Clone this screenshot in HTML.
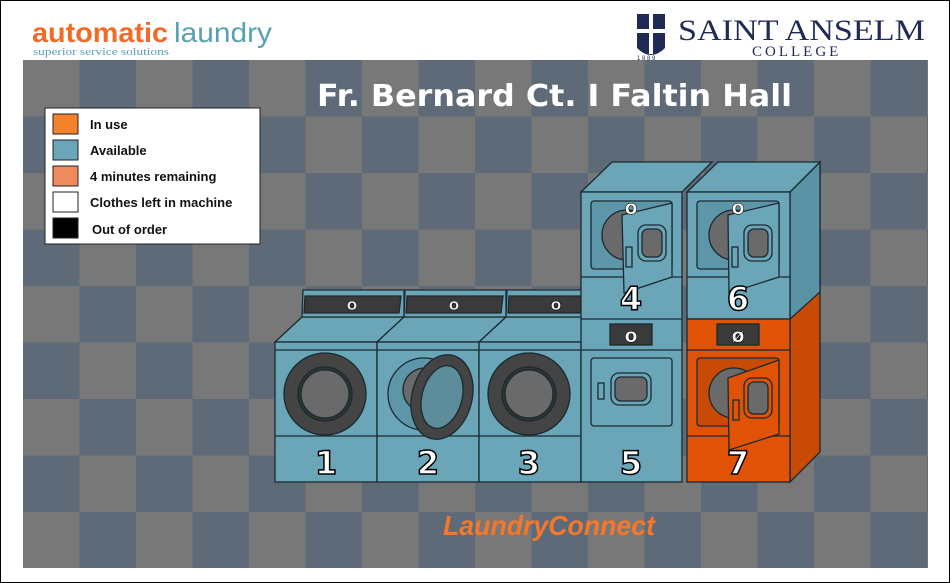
<!DOCTYPE html>
<html><head><meta charset="utf-8"><style>
html,body{margin:0;padding:0;background:#fff}
svg{display:block}
</style></head><body>
<svg width="950" height="583" viewBox="0 0 950 583" xmlns="http://www.w3.org/2000/svg" font-family="Liberation Sans, sans-serif">
<defs>
<pattern id="chk" x="23" y="60" width="113" height="113" patternUnits="userSpaceOnUse">
<rect width="113" height="113" fill="#787878"/>
<rect x="56.5" y="0" width="56.5" height="56.5" fill="#5f6a78"/>
<rect x="0" y="56.5" width="56.5" height="56.5" fill="#5f6a78"/>
</pattern>
</defs>
<rect x="0.5" y="0.5" width="949" height="582" fill="#fff" stroke="#000"/>
<rect x="23" y="60" width="905" height="508" fill="url(#chk)"/>

<!-- logos -->
<text x="32" y="42" font-size="28" font-weight="bold" fill="#f26a2a" textLength="136" lengthAdjust="spacingAndGlyphs">automatic</text>
<text x="174" y="42" font-size="28" fill="#5a9fb8" textLength="98" lengthAdjust="spacingAndGlyphs">laundry</text>
<text x="33" y="55" font-size="11" fill="#5a9fb8" font-family="Liberation Serif, serif" textLength="136" lengthAdjust="spacingAndGlyphs">superior service solutions</text>
<rect x="637" y="14" width="28" height="34" fill="#1f2a55"/>
<path d="M637 48 Q651 62 665 48" fill="#1f2a55"/>
<rect x="649" y="14" width="4" height="40" fill="#fff"/>
<rect x="637" y="29" width="28" height="4" fill="#fff"/>
<text x="678" y="40" font-size="30" fill="#1f2a55" font-family="Liberation Serif, serif" textLength="247" lengthAdjust="spacingAndGlyphs">SAINT ANSELM</text>
<text x="752" y="56" font-size="15" fill="#1f2a55" font-family="Liberation Serif, serif" letter-spacing="3">COLLEGE</text>
<text x="637" y="60" font-size="6" fill="#1f2a55">1 8 8 9</text>

<text x="317" y="106" font-size="30" font-weight="bold" fill="#fff" font-family="DejaVu Sans, sans-serif" textLength="475" lengthAdjust="spacingAndGlyphs">Fr. Bernard Ct. I Faltin Hall</text>

<!-- legend -->
<rect x="45" y="108" width="215" height="136" fill="#fff" stroke="#222"/>
<g stroke="#222" stroke-width="1">
<rect x="53" y="114" width="25" height="20" fill="#f5822a"/>
<rect x="53" y="140" width="25" height="20" fill="#6aa5b8"/>
<rect x="53" y="166" width="25" height="20" fill="#f08a5c"/>
<rect x="53" y="192" width="25" height="20" fill="#fff"/>
<rect x="53" y="218" width="25" height="20" fill="#000"/>
</g>
<g font-size="13" font-weight="bold" fill="#111">
<text x="90" y="129">In use</text>
<text x="90" y="155">Available</text>
<text x="90" y="181">4 minutes remaining</text>
<text x="90" y="207">Clothes left in machine</text>
<text x="92" y="234">Out of order</text>
</g>

<!-- machines -->
<g stroke="#1a2a30" stroke-width="1.3">
<g>
<polygon points="275,342 302,317 404,317 377,342" fill="#6aa5b8"/>
<polygon points="303,290 404,290 404,317 302,317" fill="#6aa5b8"/>
<polygon points="305,296 401,296 399,313 304,313" fill="#3a3a3a"/>
<rect x="275" y="342" width="102" height="140" fill="#6aa5b8"/>
<line x1="275" y1="350" x2="377" y2="350"/>
<line x1="275" y1="436" x2="377" y2="436"/>
</g>
<g transform="translate(102,0)">
<polygon points="275,342 302,317 404,317 377,342" fill="#6aa5b8"/>
<polygon points="303,290 404,290 404,317 302,317" fill="#6aa5b8"/>
<polygon points="305,296 401,296 399,313 304,313" fill="#3a3a3a"/>
<rect x="275" y="342" width="102" height="140" fill="#6aa5b8"/>
<line x1="275" y1="350" x2="377" y2="350"/>
<line x1="275" y1="436" x2="377" y2="436"/>
</g>
<g transform="translate(204,0)">
<polygon points="275,342 302,317 404,317 377,342" fill="#6aa5b8"/>
<polygon points="303,290 404,290 404,317 302,317" fill="#6aa5b8"/>
<polygon points="305,296 401,296 399,313 304,313" fill="#3a3a3a"/>
<rect x="275" y="342" width="102" height="140" fill="#6aa5b8"/>
<line x1="275" y1="350" x2="377" y2="350"/>
<line x1="275" y1="436" x2="377" y2="436"/>
</g>
<circle cx="325" cy="394" r="41" fill="#444"/>
<circle cx="325" cy="394" r="27" fill="#333"/>
<circle cx="325" cy="394" r="24" fill="#6a6a6a"/>
<circle cx="529" cy="394" r="41" fill="#444"/>
<circle cx="529" cy="394" r="27" fill="#333"/>
<circle cx="529" cy="394" r="24" fill="#6a6a6a"/>
<circle cx="424" cy="394" r="36" fill="#5d96a8"/>
<circle cx="425" cy="390" r="22" fill="#6a6a6a"/>
<ellipse cx="442" cy="397" rx="30" ry="43" transform="rotate(15 442 397)" fill="#444"/>
<ellipse cx="442" cy="397" rx="20" ry="32" transform="rotate(15 442 397)" fill="#5d8c9a"/>

<!-- stack 4/5 -->
<polygon points="581,192 612,162 712,162 682,192" fill="#6aa5b8"/>
<rect x="581" y="192" width="101" height="290" fill="#6aa5b8"/>
<line x1="581" y1="277" x2="682" y2="277"/>
<line x1="581" y1="319" x2="682" y2="319"/>
<line x1="581" y1="350" x2="682" y2="350"/>
<rect x="591" y="201" width="81" height="68" rx="3" fill="#5d96a8"/>
<circle cx="627" cy="235" r="25" fill="#6a6a6a"/>
<polygon points="622,215 672,203 672,277 624,293" fill="#6aa5b8"/>
<rect x="638" y="225" width="28" height="36" rx="8" fill="#6aa5b8"/>
<rect x="642" y="229" width="20" height="28" rx="6" fill="#6a6a6a"/>
<rect x="626" y="247" width="6" height="20" fill="#6aa5b8"/>
<rect x="610" y="324" width="42" height="21" fill="#3a3a3a"/>
<rect x="591" y="358" width="81" height="68" rx="3" fill="#6aa5b8"/>
<rect x="611" y="373" width="40" height="32" rx="8" fill="#6aa5b8"/>
<rect x="615" y="377" width="32" height="24" rx="6" fill="#6a6a6a"/>
<rect x="598" y="383" width="6" height="16" fill="#6aa5b8"/>

<!-- stack 6/7 -->
<polygon points="790,192 820,162 820,452 790,482" fill="#c94a05"/>
<polygon points="790,192 820,162 820,292 790,319" fill="#5a93a6"/>
<polygon points="687,192 718,162 820,162 790,192" fill="#6aa5b8"/>
<rect x="687" y="192" width="103" height="127" fill="#6aa5b8"/>
<rect x="687" y="319" width="103" height="163" fill="#e05206"/>
<line x1="687" y1="277" x2="790" y2="277"/>
<line x1="687" y1="350" x2="790" y2="350"/>
<line x1="687" y1="436" x2="790" y2="436"/>
<rect x="697" y="201" width="82" height="68" rx="3" fill="#5d96a8"/>
<circle cx="734" cy="235" r="25" fill="#6a6a6a"/>
<polygon points="728,215 779,203 779,277 729,293" fill="#6aa5b8"/>
<rect x="744" y="225" width="28" height="36" rx="8" fill="#6aa5b8"/>
<rect x="748" y="229" width="20" height="28" rx="6" fill="#6a6a6a"/>
<rect x="732" y="247" width="6" height="20" fill="#6aa5b8"/>
<rect x="717" y="324" width="42" height="21" fill="#3a3a3a"/>
<rect x="697" y="358" width="82" height="68" rx="3" fill="#c94a05"/>
<circle cx="734" cy="393" r="25" fill="#6a6a6a"/>
<polygon points="728,378 779,360 779,434 729,450" fill="#e05206"/>
<rect x="744" y="378" width="28" height="40" rx="8" fill="#e05206"/>
<rect x="748" y="382" width="20" height="32" rx="6" fill="#6a6a6a"/>
<rect x="733" y="400" width="6" height="20" fill="#e05206"/>
</g>

<!-- labels -->
<g font-size="16" font-weight="bold" fill="#eee" stroke="#000" stroke-width="0.6" text-anchor="middle" font-family="DejaVu Sans, sans-serif">
<text x="352" y="310">o</text>
<text x="454" y="310">o</text>
<text x="556" y="310">o</text>
<text x="631" y="342" font-size="19" fill="#fff">o</text>
<text x="738" y="342" font-size="19" fill="#fff">ø</text>
<text x="631" y="214" font-size="19" fill="#fff">o</text>
<text x="738" y="214" font-size="19" fill="#fff">o</text>
</g>
<g font-size="32" font-weight="bold" fill="#fff" stroke="#000" stroke-width="1.5" text-anchor="middle" font-family="DejaVu Sans, sans-serif">
<text x="326" y="474">1</text>
<text x="428" y="474">2</text>
<text x="529" y="474">3</text>
<text x="631" y="474">5</text>
<text x="738" y="474">7</text>
<text x="631" y="310">4</text>
<text x="738" y="310">6</text>
</g>

<text x="443" y="535" font-size="28" font-weight="bold" font-style="italic" fill="#f5772a" textLength="212" lengthAdjust="spacingAndGlyphs">LaundryConnect</text>
</svg>
</body></html>
